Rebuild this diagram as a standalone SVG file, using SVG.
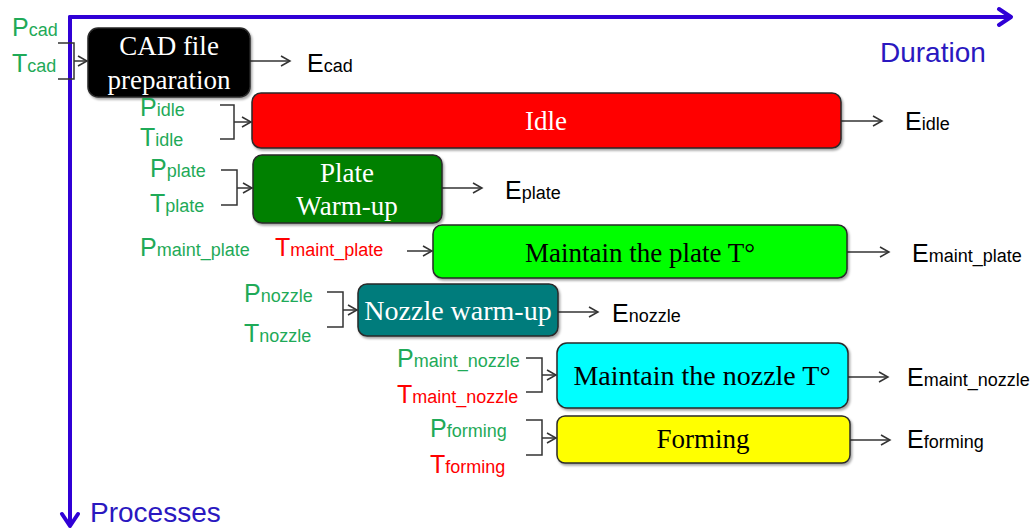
<svg xmlns="http://www.w3.org/2000/svg" width="1035" height="532" viewBox="0 0 1035 532">
<style>
.box{stroke:#2a2a2a;stroke-width:1.5}
.bt{font-family:"Liberation Serif",serif;font-size:27px;text-anchor:middle}
.lab{font-family:"Liberation Sans",sans-serif;font-size:25px}
.sub{font-size:18px}
.g{fill:#1faa58}
.r{fill:#ff0000}
.k{fill:#000}
.conn{fill:none;stroke:#333;stroke-width:1.5}
.axis{fill:none;stroke:#3000d6;stroke-width:4;stroke-linecap:round;stroke-linejoin:round}
.ax{font-family:"Liberation Sans",sans-serif;font-size:28px;fill:#2a18c0}
</style>
<defs>
<marker id="ar" markerWidth="12" markerHeight="12" refX="10" refY="6" orient="auto" markerUnits="userSpaceOnUse">
<path d="M1,1 L10,6 L1,11" fill="none" stroke="#333" stroke-width="1.5"/>
</marker>
<filter id="sh" x="-5%" y="-10%" width="115%" height="130%">
<feDropShadow dx="1.5" dy="2" stdDeviation="1.2" flood-color="#000" flood-opacity="0.35"/>
</filter>
</defs>
<g id="axes">
<path class="axis" d="M70,17 L1011,17 M999,9 L1011,17 L999,25"/>
<path class="axis" d="M70,17 L70,526 M62,514 L70,526 L78,514"/>
<text class="ax" x="880" y="62">Duration</text>
<text class="ax" x="90" y="522">Processes</text>
</g>
<g id="connectors">
<path class="conn" d="M58,43 H74 V79 H58"/>
<path class="conn" d="M74,61 H87" marker-end="url(#ar)"/>
<path class="conn" d="M250,61 H290" marker-end="url(#ar)"/>
<path class="conn" d="M220,105 H234 V139 H220"/>
<path class="conn" d="M234,122 H251" marker-end="url(#ar)"/>
<path class="conn" d="M841,121 H882" marker-end="url(#ar)"/>
<path class="conn" d="M221,170 H237 V205 H221"/>
<path class="conn" d="M237,188 H252" marker-end="url(#ar)"/>
<path class="conn" d="M442,188 H482" marker-end="url(#ar)"/>
<path class="conn" d="M407,251 H432" marker-end="url(#ar)"/>
<path class="conn" d="M847,252 H889" marker-end="url(#ar)"/>
<path class="conn" d="M327,292 H343 V327 H327"/>
<path class="conn" d="M343,310 H357" marker-end="url(#ar)"/>
<path class="conn" d="M558,312 H598" marker-end="url(#ar)"/>
<path class="conn" d="M526,358 H542 V392 H526"/>
<path class="conn" d="M542,375 H556" marker-end="url(#ar)"/>
<path class="conn" d="M848,377 H888" marker-end="url(#ar)"/>
<path class="conn" d="M526,420 H542 V455 H526"/>
<path class="conn" d="M542,438 H556" marker-end="url(#ar)"/>
<path class="conn" d="M850,440 H890" marker-end="url(#ar)"/>
</g>
<g id="cad">
<rect class="box" x="88" y="28" width="162" height="69" rx="10" fill="#000" filter="url(#sh)"/>
<text class="bt" x="169" y="55" fill="#fff">CAD file</text>
<text class="bt" x="169" y="89" fill="#fff">preparation</text>
<text class="lab g" x="12" y="36">P<tspan class="sub">cad</tspan></text>
<text class="lab g" x="12" y="72">T<tspan class="sub">cad</tspan></text>
<text class="lab k" x="307" y="72">E<tspan class="sub">cad</tspan></text>
</g>
<g id="idle">
<rect class="box" x="252" y="93" width="589" height="55" rx="9" fill="#ff0000" filter="url(#sh)"/>
<text class="bt" x="546" y="130" fill="#fff">Idle</text>
<text class="lab g" x="140" y="116">P<tspan class="sub">idle</tspan></text>
<text class="lab g" x="140" y="146">T<tspan class="sub">idle</tspan></text>
<text class="lab k" x="905" y="130">E<tspan class="sub">idle</tspan></text>
</g>
<g id="plate">
<rect class="box" x="253" y="155" width="189" height="68" rx="9" fill="#008000" filter="url(#sh)"/>
<text class="bt" x="347" y="182" fill="#fff">Plate</text>
<text class="bt" x="347" y="215" fill="#fff">Warm-up</text>
<text class="lab g" x="150" y="177">P<tspan class="sub">plate</tspan></text>
<text class="lab g" x="150" y="212">T<tspan class="sub">plate</tspan></text>
<text class="lab k" x="505" y="199">E<tspan class="sub">plate</tspan></text>
</g>
<g id="maint_plate">
<rect class="box" x="433" y="225" width="414" height="53" rx="9" fill="#00ff00" filter="url(#sh)"/>
<text class="bt" x="640" y="262" fill="#000">Maintain the plate T°</text>
<text class="lab g" x="140" y="256">P<tspan class="sub">maint_plate</tspan></text>
<text class="lab r" x="275" y="256">T<tspan class="sub">maint_plate</tspan></text>
<text class="lab k" x="912" y="262">E<tspan class="sub">maint_plate</tspan></text>
</g>
<g id="nozzle">
<rect class="box" x="358" y="284" width="200" height="52" rx="9" fill="#007b7b" filter="url(#sh)"/>
<text class="bt" x="458" y="320" fill="#fff" style="font-size:28px">Nozzle warm-up</text>
<text class="lab g" x="244" y="302">P<tspan class="sub">nozzle</tspan></text>
<text class="lab g" x="244" y="342">T<tspan class="sub">nozzle</tspan></text>
<text class="lab k" x="612" y="322">E<tspan class="sub">nozzle</tspan></text>
</g>
<g id="maint_nozzle">
<rect class="box" x="557" y="343" width="291" height="65" rx="10" fill="#00ffff" filter="url(#sh)"/>
<text class="bt" x="702" y="385" fill="#000" style="font-size:28px">Maintain the nozzle T°</text>
<text class="lab g" x="397" y="367">P<tspan class="sub">maint_nozzle</tspan></text>
<text class="lab r" x="397" y="403">T<tspan class="sub">maint_nozzle</tspan></text>
<text class="lab k" x="907" y="386">E<tspan class="sub">maint_nozzle</tspan></text>
</g>
<g id="forming">
<rect class="box" x="557" y="416" width="293" height="47" rx="8" fill="#ffff00" filter="url(#sh)"/>
<text class="bt" x="703" y="448" fill="#000">Forming</text>
<text class="lab g" x="430" y="437">P<tspan class="sub">forming</tspan></text>
<text class="lab r" x="430" y="473">T<tspan class="sub">forming</tspan></text>
<text class="lab k" x="907" y="448">E<tspan class="sub">forming</tspan></text>
</g>
</svg>
